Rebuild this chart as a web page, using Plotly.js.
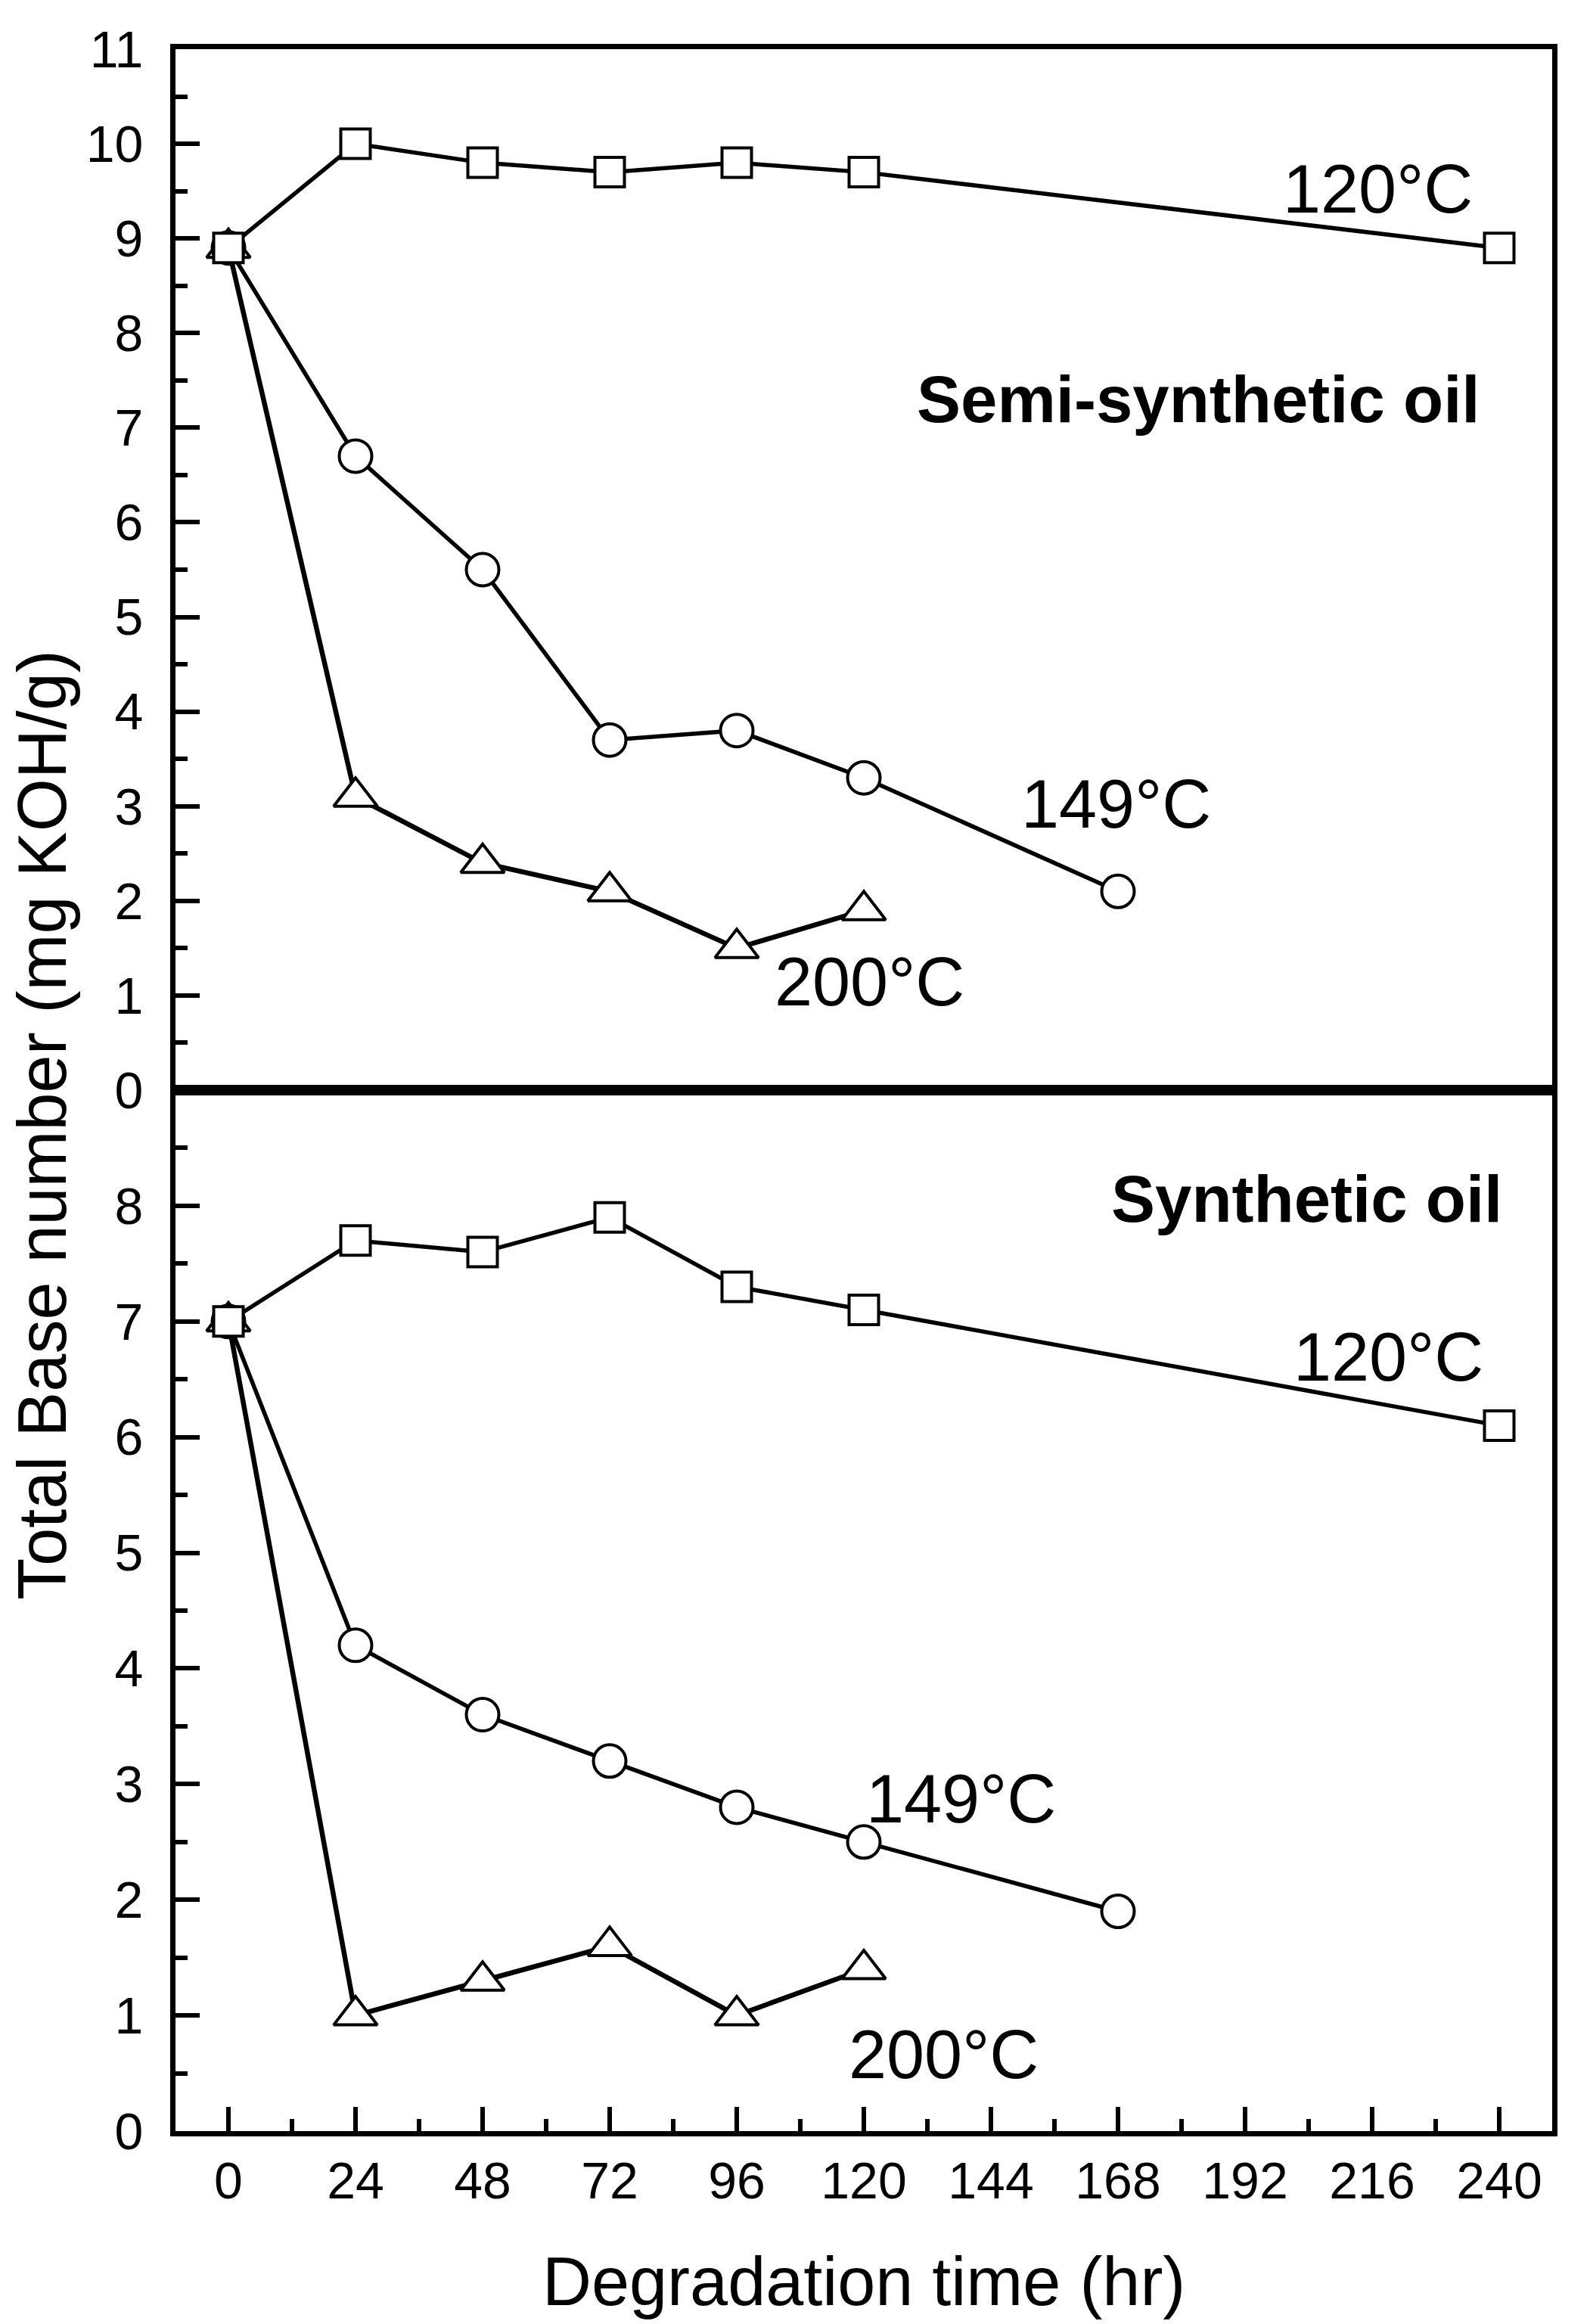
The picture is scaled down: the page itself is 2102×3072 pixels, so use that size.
<!DOCTYPE html>
<html>
<head>
<meta charset="utf-8">
<script src="https://cdn.plot.ly/plotly-3.0.1.min.js"></script>
<style>
  html, body { margin: 0; padding: 0; background: #fff; }
  #chart { width: 2102px; height: 3072px; }
</style>
</head>
<body>
<div id="chart"></div>
<script>
// degradation time (hr)
const hours = [0, 24, 48, 72, 96, 120];
const hours120 = [0, 24, 48, 72, 96, 120, 240];
const hours149 = [0, 24, 48, 72, 96, 120, 168];
const xTicks = [0, 24, 48, 72, 96, 120, 144, 168, 192, 216, 240];

// semi-synthetic oil, TBN (mg KOH/g)
const semi120 = [8.9, 10.0, 9.8, 9.7, 9.8, 9.7, 8.9];
const semi149 = [8.9, 6.7, 5.5, 3.7, 3.8, 3.3, 2.1];
const semi200 = [8.9, 3.1, 2.4, 2.1, 1.5, 1.9];

// synthetic oil, TBN (mg KOH/g)
const syn120 = [7.0, 7.7, 7.6, 7.9, 7.3, 7.1, 6.1];
const syn149 = [7.0, 4.2, 3.6, 3.2, 2.8, 2.5, 1.9];
const syn200 = [7.0, 1.0, 1.3, 1.6, 1.0, 1.4];

const FONT = '"Liberation Sans", Arial, sans-serif';

const series = (x, y, symbol, size, yaxis, width) => ({
    x, y, yaxis, xaxis: yaxis === 'y2' ? 'x2' : 'x',
    type: 'scatter', mode: 'lines+markers',
    line: {color: '#000', width: width || 5.5},
    marker: {symbol, size, color: '#fff', line: {color: '#000', width: 4}},
    showlegend: false, hoverinfo: 'x+y'
});

const data = [
    series(hours, semi200, 'triangle-up', 50, 'y2', 6.5),
    series(hours149, semi149, 'circle', 43, 'y2'),
    series(hours120, semi120, 'square', 39, 'y2'),
    series(hours, syn200, 'triangle-up', 50, 'y', 6.5),
    series(hours149, syn149, 'circle', 43, 'y'),
    series(hours120, syn120, 'square', 39, 'y'),
];

const tickFont = {family: FONT, size: 68, color: '#000'};
const lineStyle = {showline: true, linecolor: '#000', linewidth: 7, mirror: true, showgrid: false, zeroline: false};

const label = (text, x, y, yref, bold) => ({
    text: bold ? '<b>' + text + '</b>' : text,
    x, y, xref: 'x', yref, showarrow: false,
    font: {family: FONT, size: bold ? 87 : 90, color: '#000'}
});

const layout = {
    width: 2102, height: 3072,
    margin: {l: 232, r: 50, t: 65, b: 255},
    paper_bgcolor: '#fff', plot_bgcolor: '#fff',
    font: {family: FONT, color: '#000'},
    xaxis: {
        ...lineStyle, domain: [0, 1], anchor: 'y', range: [-10, 250],
        tickvals: xTicks, ticktext: xTicks.map(String),
        ticks: 'inside', ticklen: 32, tickwidth: 6, tickcolor: '#000',
        minor: {ticks: 'inside', dtick: 12, tick0: 0, ticklen: 16, tickwidth: 6, tickcolor: '#000'},
        tickfont: tickFont, ticklabelstandoff: 0
    },
    xaxis2: {
        ...lineStyle, anchor: 'y2', matches: 'x', range: [-10, 250],
        ticks: '', showticklabels: false
    },
    yaxis: {
        ...lineStyle, domain: [0, 0.5], anchor: 'x', range: [0, 9],
        tickvals: [0, 1, 2, 3, 4, 5, 6, 7, 8],
        ticks: 'inside', ticklen: 32, tickwidth: 6, tickcolor: '#000',
        minor: {ticks: 'inside', dtick: 0.5, tick0: 0, ticklen: 16, tickwidth: 6, tickcolor: '#000'},
        tickfont: tickFont, ticklabelstandoff: 22
    },
    yaxis2: {
        ...lineStyle, domain: [0.5, 1], anchor: 'x2', range: [0, 11],
        tickvals: [0, 1, 2, 3, 4, 5, 6, 7, 8, 9, 10, 11],
        ticks: 'inside', ticklen: 32, tickwidth: 6, tickcolor: '#000',
        minor: {ticks: 'inside', dtick: 0.5, tick0: 0, ticklen: 16, tickwidth: 6, tickcolor: '#000'},
        tickfont: tickFont, ticklabelstandoff: 22
    },
    annotations: [
        label('120°C', 217, 9.52, 'y2'),
        label('Semi-synthetic oil', 183.2, 7.3, 'y2', true),
        label('149°C', 167.7, 3.02, 'y2'),
        label('200°C', 121, 1.14, 'y2'),
        label('Synthetic oil', 203.6, 8.06, 'y', true),
        label('120°C', 219, 6.69, 'y'),
        label('149°C', 138.3, 2.87, 'y'),
        label('200°C', 135, 0.66, 'y'),
        {
            text: 'Degradation time (hr)', xref: 'paper', yref: 'paper',
            x: 0.5, y: -0.0723, xanchor: 'center', yanchor: 'middle', showarrow: false,
            font: {family: FONT, size: 90, color: '#000'}
        },
        {
            text: 'Total Base number (mg KOH/g)', xref: 'paper', yref: 'paper',
            x: -0.0967, y: 0.483, xanchor: 'center', yanchor: 'middle',
            textangle: -90, showarrow: false,
            font: {family: FONT, size: 90, color: '#000'}
        }
    ]
};

Plotly.newPlot('chart', data, layout, {staticPlot: true});
</script>
</body>
</html>
